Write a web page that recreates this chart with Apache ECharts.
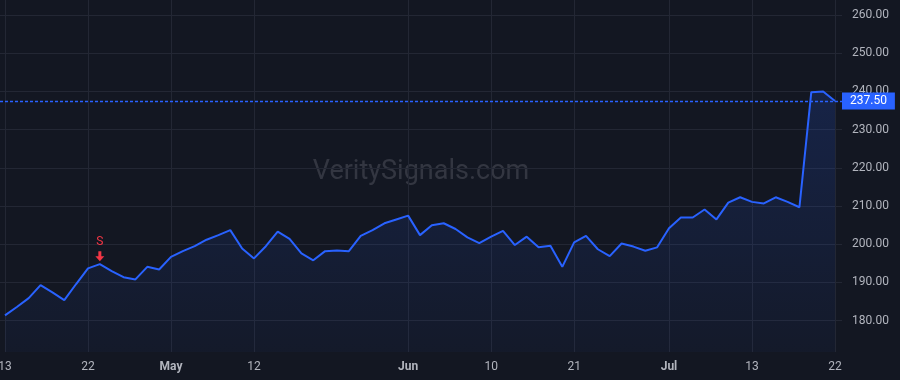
<!DOCTYPE html>
<html>
<head>
<meta charset="utf-8">
<script src="https://cdn.jsdelivr.net/npm/echarts@6/dist/echarts.min.js"></script>
<style>
html,body{margin:0;padding:0;background:#131722;}
#c{width:900px;height:380px;}
</style>
</head>
<body>
<div id="c"></div>
<script>
// Trading-day index 0 = 2021-04-13 ... 70 = 2021-07-22
const prices = [
  181.4, 183.6, 185.9, 189.3, 187.4, 185.4, 189.6, 193.7, 194.8, 193.0,
  191.4, 190.8, 194.1, 193.4, 196.7, 198.2, 199.5, 201.2, 202.4, 203.7,
  198.9, 196.3, 199.5, 203.3, 201.4, 197.6, 195.8, 198.2, 198.4, 198.2,
  202.2, 203.7, 205.5, 206.5, 207.5, 202.4, 205.0, 205.5, 204.0, 201.8,
  200.3, 202.0, 203.5, 199.8, 202.0, 199.2, 199.6, 194.1, 200.5, 202.2,
  198.7, 196.9, 200.2, 199.4, 198.3, 199.2, 204.2, 207.0, 207.0, 209.1,
  206.5, 210.9, 212.3, 211.1, 210.7, 212.3, 211.1, 209.7, 239.8, 240.0,
  237.5
];
const xTickIndex = [0, 7, 14, 21, 34, 41, 48, 56, 63, 70];
const xTickLabels = ['13', '22', 'May', '12', 'Jun', '10', '21', 'Jul', '13', '22'];
const monthLabels = ['May', 'Jun', 'Jul'];
const yTicks = [180, 190, 200, 210, 220, 230, 240, 250, 260];
const signalIndex = 8;
const signalText = 'S';
const lastPrice = 237.5;
const watermark = 'VeritySignals.com';

const chart = echarts.init(document.getElementById('c'), null, {renderer: 'canvas'});
const seriesData = prices.map((v, i) => [i, v]);
const gridColor = '#232734';
const textColor = '#b2b5be';
const red = '#f23645';
const blue = '#2962ff';
const font = 'Roboto, "Noto Sans", sans-serif';

chart.setOption({
  backgroundColor: '#131722',
  animation: false,
  grid: {left: 0, right: 58, top: 0, bottom: 28, containLabel: false, outerBoundsMode: 'none'},
  graphic: [{
    type: 'text',
    x: 421, y: 172,
    silent: true,
    z: 0,
    style: {
      text: watermark,
      fill: 'rgba(178,181,190,0.2)',
      font: '27px ' + font,
      textAlign: 'center',
      textVerticalAlign: 'middle'
    }
  }],
  xAxis: {
    type: 'value',
    min: -0.42,
    max: 70.59,
    axisLine: {show: false},
    axisTick: {show: false, customValues: xTickIndex},
    splitLine: {show: true, lineStyle: {color: gridColor, width: 1}},
    axisLabel: {
      customValues: xTickIndex,
      color: textColor,
      fontSize: 12,
      fontFamily: font,
      margin: 9,
      formatter: function (v) {
        const k = xTickIndex.indexOf(Math.round(v));
        if (k < 0) return '';
        const t = xTickLabels[k];
        return monthLabels.indexOf(t) >= 0 ? '{b|' + t + '}' : t;
      },
      rich: {b: {fontWeight: 'bold', color: textColor, fontSize: 12, fontFamily: font}}
    }
  },
  yAxis: {
    type: 'value',
    position: 'right',
    min: 171.81,
    max: 263.93,
    axisLine: {show: false},
    axisTick: {show: false, customValues: yTicks},
    splitLine: {show: true, lineStyle: {color: gridColor, width: 1}},
    axisLabel: {
      customValues: yTicks,
      color: textColor,
      fontSize: 12,
      fontFamily: font,
      margin: 10,
      formatter: v => v.toFixed(2)
    }
  },
  series: [{
    type: 'line',
    data: seriesData,
    symbol: 'none',
    smooth: false,
    lineStyle: {color: blue, width: 2},
    areaStyle: {
      color: new echarts.graphic.LinearGradient(0, 0, 0, 1, [
        {offset: 0, color: 'rgba(41,98,255,0.24)'},
        {offset: 1, color: 'rgba(41,98,255,0.05)'}
      ])
    },
    z: 3,
    markLine: {
      silent: true,
      symbol: ['none', 'none'],
      lineStyle: {color: blue, type: [3, 2], width: 1.3, opacity: 1},
      label: {
        show: true,
        position: 'end',
        distance: 0,
        formatter: p => p.value.toFixed(2),
        backgroundColor: blue,
        color: '#ffffff',
        fontSize: 12,
        fontFamily: font,
        padding: [3, 8, 2, 8],
        borderRadius: 0
      },
      data: [{yAxis: lastPrice}]
    },
    markPoint: {
      silent: true,
      data: [{
        coord: [signalIndex, prices[signalIndex]],
        symbol: 'path://M3,0 L6,0 L6,5 L9,5 L4.5,10 L0,5 L3,5 Z',
        symbolSize: [9, 10],
        symbolOffset: [0, -8],
        itemStyle: {color: red},
        label: {
          show: true,
          formatter: signalText,
          position: 'top',
          distance: 3,
          color: red,
          fontSize: 12,
          fontFamily: font
        }
      }]
    }
  }]
});
</script>
</body>
</html>
